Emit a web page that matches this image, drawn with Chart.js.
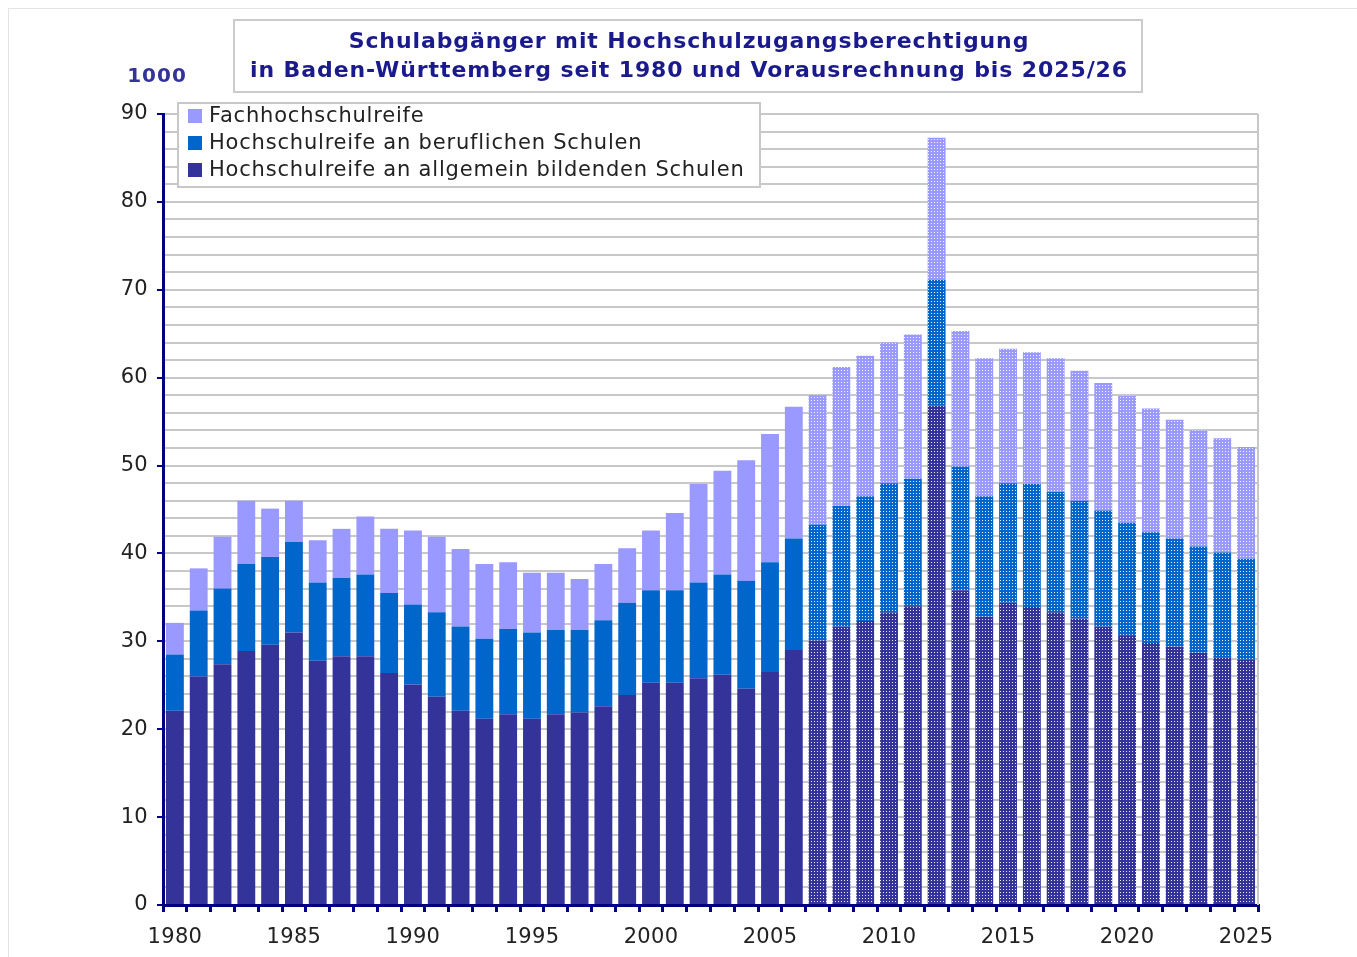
<!DOCTYPE html>
<html lang="de">
<head>
  <meta charset="UTF-8">
  <title>Schulabgänger mit Hochschulzugangsberechtigung</title>
  <script src="https://cdn.jsdelivr.net/npm/chart.js@4.4.1/dist/chart.umd.min.js"></script>
  <style>
    body { margin: 0; background: #fff; }
  </style>
</head>
<body>
  <canvas id="chart" width="1357" height="957"></canvas>
  <script>
    // values in 1000
    const years = ['1980','1981','1982','1983','1984','1985','1986','1987','1988','1989',
                   '1990','1991','1992','1993','1994','1995','1996','1997','1998','1999',
                   '2000','2001','2002','2003','2004','2005','2006','2007','2008','2009',
                   '2010','2011','2012','2013','2014','2015','2016','2017','2018','2019',
                   '2020','2021','2022','2023','2024','2025'];
    const firstForecast = '2007';

    const allgemein = [22.1, 26.0, 27.4, 28.9, 29.6, 31.0, 27.8, 28.3, 28.3, 26.4,
                       25.1, 23.7, 22.1, 21.2, 21.7, 21.2, 21.7, 21.9, 22.6, 23.9,
                       25.3, 25.3, 25.8, 26.2, 24.6, 26.5, 29.0, 30.1, 31.7, 32.3,
                       33.3, 34.0, 56.8, 35.8, 32.8, 34.4, 33.9, 33.3, 32.6, 31.7,
                       30.6, 29.8, 29.4, 28.7, 28.2, 27.9];
    const beruflich = [6.4, 7.5, 8.6, 9.9, 10.0, 10.3, 8.9, 8.9, 9.3, 9.1,
                       9.1, 9.6, 9.6, 9.1, 9.7, 9.8, 9.6, 9.4, 9.8, 10.5,
                       10.5, 10.5, 10.9, 11.4, 12.3, 12.5, 12.7, 13.2, 13.7, 14.2,
                       14.7, 14.5, 14.3, 14.1, 13.7, 13.6, 14.0, 13.7, 13.4, 13.2,
                       12.9, 12.6, 12.3, 12.1, 11.9, 11.5];
    const fach = [3.6, 4.8, 5.9, 7.2, 5.5, 4.7, 4.8, 5.6, 6.6, 7.3,
                  8.4, 8.6, 8.8, 8.5, 7.6, 6.8, 6.5, 5.8, 6.4, 6.2,
                  6.8, 8.8, 11.2, 11.8, 13.7, 14.6, 15.0, 14.7, 15.8, 16.0,
                  16.0, 16.4, 16.2, 15.4, 15.7, 15.3, 15.0, 15.2, 14.8, 14.5,
                  14.4, 14.1, 13.5, 13.2, 13.0, 12.7];

    const seriesNames = ['Fachhochschulreife',
                         'Hochschulreife an beruflichen Schulen',
                         'Hochschulreife an allgemein bildenden Schulen'];
    const colFach = '#9999ff';
    const colBeruf = '#0066cc';
    const colAllg = '#333399';
    const navy = '#000080';
    const font = 'DejaVu Sans';

    const ctx = document.getElementById('chart').getContext('2d');

    // forecast years get a dotted fill
    function dotted(color) {
      const c = document.createElement('canvas');
      c.width = 3; c.height = 3;
      const g = c.getContext('2d');
      g.fillStyle = color;
      g.fillRect(0, 0, 3, 3);
      g.fillStyle = 'rgba(255,255,255,0.9)';
      g.fillRect(1, 1, 1, 1);
      return ctx.createPattern(c, 'repeat');
    }
    function fills(color) {
      const p = dotted(color);
      const start = years.indexOf(firstForecast);
      return years.map((y, i) => i >= start ? p : color);
    }

    const decor = {
      id: 'decor',
      beforeDraw(chart) {
        const c = chart.ctx;
        c.save();
        c.fillStyle = '#fff';
        c.fillRect(0, 0, chart.width, chart.height);
        c.strokeStyle = '#e4e4e4';
        c.lineWidth = 1;
        c.strokeRect(8.5, 8.5, chart.width, chart.height);
        c.restore();
        // slightly wider text, like the original Verdana
        c.letterSpacing = '0.3px';
      },
      afterDraw(chart) {
        const c = chart.ctx;
        const a = chart.chartArea;
        c.save();
        // right frame of plot
        c.strokeStyle = '#c8c8c8';
        c.lineWidth = 2;
        c.beginPath();
        c.moveTo(a.right, a.top);
        c.lineTo(a.right, a.bottom);
        c.stroke();

        // title box
        c.fillStyle = '#fff';
        c.fillRect(234, 20, 908, 72);
        c.strokeStyle = '#cccccc';
        c.strokeRect(234, 20, 908, 72);
        c.fillStyle = '#1a1a8c';
        c.font = 'bold 22px "' + font + '"';
        c.letterSpacing = '0.9px';
        c.textAlign = 'center';
        c.textBaseline = 'middle';
        c.fillText('Schulabgänger mit Hochschulzugangsberechtigung', 689, 42);
        c.fillText('in Baden-Württemberg seit 1980 und Vorausrechnung bis 2025/26', 689, 71);

        // unit
        c.fillStyle = '#333399';
        c.font = 'bold 20px "' + font + '"';
        c.letterSpacing = '1px';
        c.fillText('1000', 157, 77);

        // legend
        c.fillStyle = '#fff';
        c.fillRect(178, 103, 582, 84);
        c.strokeStyle = '#c8c8c8';
        c.strokeRect(178, 103, 582, 84);
        const cols = [colFach, colBeruf, colAllg];
        c.font = '21px "' + font + '"';
        c.letterSpacing = '0.8px';
        c.textAlign = 'left';
        seriesNames.forEach((name, i) => {
          const y = 116 + i * 27;
          c.fillStyle = cols[i];
          c.fillRect(188, y - 7, 14, 14);
          c.fillStyle = '#222';
          c.fillText(name, 209, y + 1);
        });
        c.restore();
      }
    };

    new Chart(ctx, {
      type: 'bar',
      data: {
        labels: years,
        datasets: [
          { label: seriesNames[2], data: allgemein, backgroundColor: fills(colAllg) },
          { label: seriesNames[1], data: beruflich, backgroundColor: fills(colBeruf) },
          { label: seriesNames[0], data: fach, backgroundColor: fills(colFach) }
        ]
      },
      options: {
        responsive: false,
        animation: false,
        layout: { padding: { left: 0, top: 114, right: 99, bottom: 0 } },
        datasets: { bar: { categoryPercentage: 1, barPercentage: 0.75, borderWidth: 0 } },
        plugins: { legend: { display: false }, title: { display: false }, tooltip: { enabled: false } },
        scales: {
          x: {
            stacked: true,
            afterFit(s) { s.height = 52; },
            grid: {
              offset: true,
              drawOnChartArea: false,
              tickLength: 7,
              tickColor: navy,
              lineWidth: 3
            },
            border: { color: navy, width: 3 },
            ticks: {
              autoSkip: false,
              maxRotation: 0,
              padding: 13,
              color: '#222',
              font: { family: font, size: 21 },
              callback(v, i) { return i % 5 === 0 ? years[i] : ''; }
            }
          },
          y: {
            stacked: true,
            min: 0,
            max: 90,
            afterFit(s) { s.width = 163; },
            grid: {
              color: '#c8c8c8',
              lineWidth: 2,
              tickLength: 6,
              tickColor: c => c.tick.value % 10 === 0 ? navy : 'rgba(0,0,0,0)'
            },
            border: { color: navy, width: 3 },
            ticks: {
              autoSkip: false,
              stepSize: 2,
              padding: 9,
              color: '#222',
              font: { family: font, size: 21 },
              callback(v) { return v % 10 === 0 ? v : ''; }
            }
          }
        }
      },
      plugins: [decor]
    });
  </script>
</body>
</html>
